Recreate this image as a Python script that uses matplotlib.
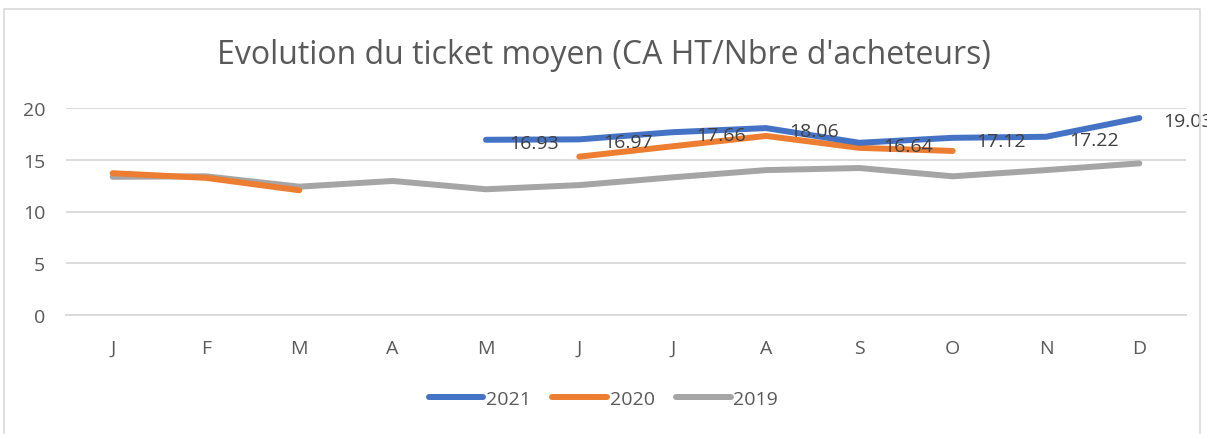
import numpy as np
import matplotlib.pyplot as plt
from matplotlib.lines import Line2D

# monthly average ticket values (CA HT / number of buyers)
months = ["J", "F", "M", "A", "M", "J", "J", "A", "S", "O", "N", "D"]
y2021 = [None, None, None, None, 16.93, 16.97, 17.66, 18.06, 16.64, 17.12, 17.22, 19.03]
y2020 = [13.7, 13.25, 12.05, None, None, 15.3, 16.3, 17.3, 16.15, 15.85, None, None]
y2019 = [13.35, 13.4, 12.4, 12.95, 12.15, 12.55, 13.3, 14.0, 14.2, 13.4, 14.0, 14.65]
years = ["2021", "2020", "2019"]
colors = ["#4472C4", "#ED7D31", "#A5A5A5"]

plt.rcParams["font.family"] = ["Open Sans", "DejaVu Sans"]
txt = "#595959"

fig = plt.figure(figsize=(12.07, 4.35), dpi=100)
ax = fig.add_axes([66 / 1207, 1 - 316 / 435, (1186 - 66) / 1207, (316 - 109) / 435])

x = np.arange(len(months))


def to_arr(vals):
    return np.array([np.nan if v is None else v for v in vals], dtype=float)


# draw in order 2019, 2020, 2021 so blue sits on top
series = [to_arr(y2021), to_arr(y2020), to_arr(y2019)]
for vals, col, z in zip(series[::-1], colors[::-1], [2, 3, 4]):
    ax.plot(x, vals, color=col, lw=4.3, solid_capstyle="round", zorder=z, clip_on=False)

# data labels for 2021
for xi, v in zip(x, series[0]):
    if not np.isnan(v):
        ax.annotate(f"{v:.2f}", (xi, v), xytext=(17, -2), textcoords="offset points",
                    ha="left", va="center", fontsize=14, color="#404040", zorder=6,
                    annotation_clip=False)

ax.set_xlim(-0.5, 11.5)
ax.set_ylim(0, 20)
ax.set_yticks([0, 5, 10, 15, 20])
ax.set_xticks(x)
ax.set_xticklabels(months)
ax.tick_params(axis="both", length=0, labelsize=14, labelcolor=txt)
ax.tick_params(axis="x", pad=17)
ax.tick_params(axis="y", pad=15)
ax.grid(axis="y", color="#D9D9D9", lw=1.3)
ax.set_axisbelow(True)
for s in ["top", "right", "left"]:
    ax.spines[s].set_visible(False)
ax.spines["bottom"].set_color("#D9D9D9")
ax.spines["bottom"].set_linewidth(1.3)

fig.text(0.5, 1 - 55 / 435, "Evolution du ticket moyen (CA HT/Nbre d'acheteurs)",
         ha="center", va="center", fontsize=23, color=txt)

handles = [Line2D([0], [0], color=c, lw=4.3, solid_capstyle="round") for c in colors]
fig.legend(handles, years, loc="center", bbox_to_anchor=(0.5, 1 - 400 / 435), ncol=3,
           frameon=False, fontsize=14, labelcolor=txt, handlelength=2.8,
           handletextpad=0.15, columnspacing=1.1)

# chart border
fig.add_artist(Line2D([4 / 1207, 4 / 1207, 1200 / 1207, 1200 / 1207],
                      [0, 1 - 10 / 435, 1 - 10 / 435, 0],
                      color="#D9D9D9", lw=1.2, transform=fig.transFigure))

fig.savefig("out.png", dpi=100)
